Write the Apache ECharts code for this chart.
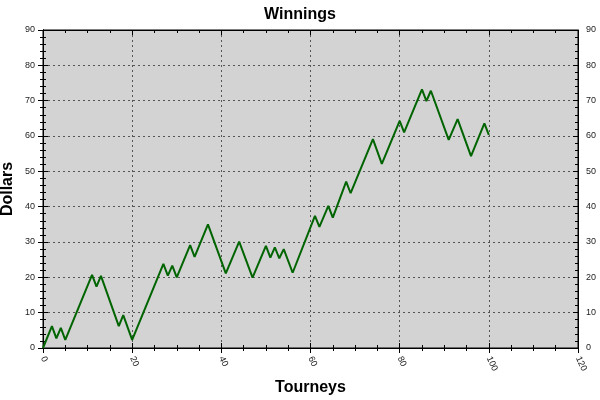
<!DOCTYPE html>
<html>
<head>
<meta charset="utf-8">
<script src="https://cdn.jsdelivr.net/npm/echarts@6/dist/echarts.min.js"></script>
<style>html,body{margin:0;padding:0;background:#fff;}#c{width:600px;height:400px;}</style>
</head>
<body>
<div id="c"></div>
<script>
// Turning points of the winnings line (tourney number, dollars)
const tourneys = [0, 2, 3, 4, 5, 11, 12, 13, 17, 18, 20, 27, 28, 29, 30, 33, 34, 37, 41, 44, 47, 50, 51, 52, 53, 54, 56, 61, 62, 64, 65, 68, 69, 74, 76, 80, 81, 85, 86, 87, 91, 93, 96, 99, 100];
const dollars  = [0, 6.2, 2.7, 5.7, 2.3, 20.7, 17.4, 20.4, 6.2, 9.3, 2.3, 23.8, 20.5, 23.3, 20, 29.1, 25.8, 35, 21.1, 30.1, 19.9, 28.9, 25.6, 28.5, 25.4, 28, 21.3, 37.4, 34.3, 40.2, 36.9, 47.1, 43.8, 59.1, 52.1, 64.3, 61, 73.2, 69.9, 72.8, 58.9, 64.8, 54.3, 63.6, 60.3];
const xTicks = [0, 20, 40, 60, 80, 100, 120];
const yTicks = [0, 10, 20, 30, 40, 50, 60, 70, 80, 90];

const font = '"Liberation Sans", Arial, sans-serif';
const xMin = xTicks[0], xMax = xTicks[xTicks.length - 1];
const yMin = yTicks[0], yMax = yTicks[yTicks.length - 1];

const chart = echarts.init(document.getElementById('c'));
const lineDark = {color: '#000', width: 1};

function yAx(extra) {
  return Object.assign({
    type: 'value', min: yMin, max: yMax, interval: 10,
    axisLine: {show: true, lineStyle: lineDark},
    axisTick: {show: true, length: 5, lineStyle: lineDark},
    minorTick: {show: true, splitNumber: 5, length: 3, lineStyle: lineDark},
    splitLine: {show: false},
    axisLabel: {show: false}
  }, extra);
}
function xAx(extra) {
  return Object.assign({
    type: 'value', min: xMin, max: xMax, interval: 20,
    axisLine: {show: true, onZero: false, lineStyle: lineDark},
    axisTick: {show: true, length: 5, lineStyle: lineDark},
    minorTick: {show: true, splitNumber: 4, length: 3, lineStyle: lineDark},
    splitLine: {show: false},
    axisLabel: {show: false}
  }, extra);
}

chart.setOption({
  animation: false,
  backgroundColor: '#fff',
  title: {
    text: 'Winnings', left: 'center', top: 2,
    textStyle: {fontFamily: font, fontSize: 16, fontWeight: 'bold', color: '#000'}
  },
  grid: {left: 43, right: 22, top: 30, bottom: 52, containLabel: false, outerBoundsMode: 'none',
         show: true, backgroundColor: '#d3d3d3', borderColor: '#000', borderWidth: 1},
  xAxis: [
    xAx({
      position: 'bottom',
      name: 'Tourneys', nameLocation: 'middle', nameGap: 32, nameMoveOverlap: false,
      nameTextStyle: {fontFamily: font, fontSize: 16, fontWeight: 'bold', color: '#000'},
      axisLabel: {show: true, rotate: -65, fontFamily: font, fontSize: 9, color: '#222', margin: 9},
      splitLine: {show: true, lineStyle: {color: '#555', type: [2, 3], width: 1}}
    }),
    xAx({position: 'bottom', axisTick: {show: true, inside: true, length: 5, lineStyle: lineDark}, minorTick: {show: true, splitNumber: 4, length: 3, lineStyle: lineDark}}),
    xAx({position: 'top', axisTick: {show: true, inside: true, length: 5, lineStyle: lineDark}})
  ],
  yAxis: [
    yAx({
      position: 'left',
      name: 'Dollars', nameLocation: 'middle', nameGap: 27, nameMoveOverlap: false,
      nameTextStyle: {fontFamily: font, fontSize: 16, fontWeight: 'bold', color: '#000'},
      axisLabel: {show: true, fontFamily: font, fontSize: 9, color: '#222', margin: 8},
      splitLine: {show: true, lineStyle: {color: '#555', type: [2, 3], width: 1}}
    }),
    yAx({position: 'left', axisTick: {show: true, inside: true, length: 5, lineStyle: lineDark}, minorTick: {show: true, splitNumber: 5, length: 3, lineStyle: lineDark}}),
    yAx({position: 'right', axisLabel: {show: true, fontFamily: font, fontSize: 9, color: '#222', margin: 8}}),
    yAx({position: 'right', axisTick: {show: true, inside: true, length: 5, lineStyle: lineDark}, minorTick: {show: true, splitNumber: 5, length: 3, lineStyle: lineDark}})
  ],
  series: [{
    type: 'line',
    xAxisIndex: 0, yAxisIndex: 0,
    data: tourneys.map((t, i) => [t, dollars[i]]),
    showSymbol: false, symbol: 'none',
    lineStyle: {color: '#006400', width: 2},
    z: 5
  }]
});
</script>
</body>
</html>
